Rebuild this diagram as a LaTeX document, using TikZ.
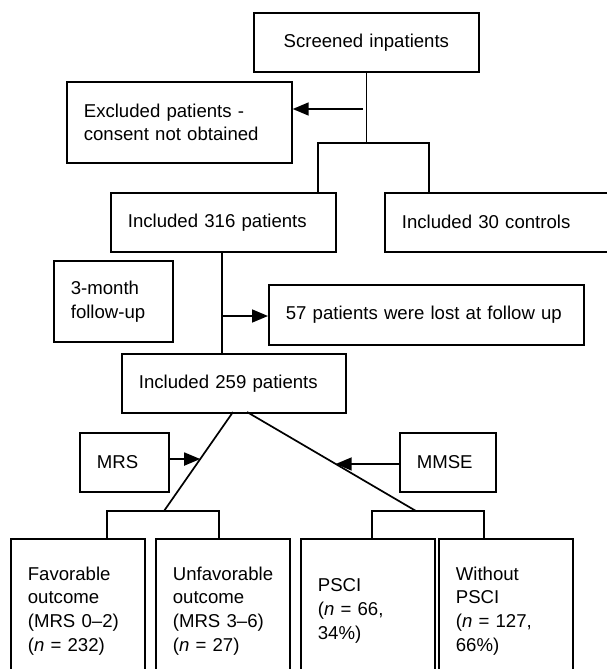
\documentclass[tikz,border=0pt]{standalone}
\usepackage{fontspec}
\setmainfont{Liberation Sans}
\usetikzlibrary{arrows.meta,calc}

\tikzset{
  box/.style={draw, line width=1.7pt, rectangle, anchor=north west,
    inner xsep=17pt, inner ysep=0pt, align=left,
    font=\fontsize{18.6}{23.7}\selectfont},
  link/.style={line width=1.7pt},
  tip/.style={link, -{Triangle[length=16pt,width=13pt]}}
}

\begin{document}
\begin{tikzpicture}[x=1pt,y=-1pt]
    \useasboundingbox (0,0) rectangle (607,669);
    % screening
    \node[box, align=center, minimum width=225pt, text width=191pt, minimum height=59pt] (scr) at (253,12) {Screened inpatients};
    \node[box, minimum width=225pt, text width=191pt, minimum height=81pt] (excl) at (66,81) {Excluded patients -\\consent not obtained};
    \node[box, minimum width=225pt, text width=191pt, minimum height=59pt] (inc316) at (110,192) {Included 316 patients};
    \node[box, minimum width=236pt, text width=202pt, minimum height=59pt] (ctrl) at (384,192) {Included 30 controls};
    % follow-up
    \node[box, minimum width=119pt, text width=85pt, minimum height=81pt] (fu) at (53,260) {3-month\\follow-up};
    \node[box, minimum width=315pt, text width=281pt, minimum height=60pt] (lost) at (268,284) {57 patients were lost at follow up};
    \node[box, minimum width=224pt, text width=190pt, minimum height=59pt] (inc259) at (121,353) {Included 259 patients};
    % outcome scales
    \node[box, minimum width=89pt, text width=55pt, minimum height=59pt] (mrs) at (79,432) {MRS};
    \node[box, minimum width=96pt, text width=62pt, minimum height=59pt] (mmse) at (399,432) {MMSE};
    \node[box, minimum width=134pt, text width=100pt, minimum height=144pt] (fav) at (10,538) {Favorable\\outcome\\(MRS 0–2)\\(\textit{n} = 232)};
    \node[box, minimum width=134pt, text width=100pt, minimum height=144pt] (unfav) at (155,538) {Unfavorable\\outcome\\(MRS 3–6)\\(\textit{n} = 27)};
    \node[box, minimum width=134pt, text width=100pt, minimum height=144pt] (psci) at (300,538) {PSCI\\(\textit{n} = 66,\\34\%)};
    \node[box, minimum width=134pt, text width=100pt, minimum height=144pt] (nopsci) at (438,538) {Without\\PSCI\\(\textit{n} = 127,\\66\%)};

    % connectors
    \coordinate (j1) at (363,109);
    \coordinate (bL) at (318,143);
    \coordinate (bR) at (429,143);
    \draw[link] (scr.south) -- (scr.south |- bL);
    \draw[tip] (j1) -- (j1 -| excl.east);
    \draw[link] (bL |- inc316.north) -- (bL) -- (bR) -- (bR |- ctrl.north);
    \coordinate (j2) at (222,316);
    \draw[link] (inc316.south -| j2) -- (inc259.north -| j2);
    \draw[tip] (j2) -- (j2 -| lost.west);
    \coordinate (s1) at (233,412);
    \coordinate (e1) at (164,511);
    \coordinate (s2) at (247,412);
    \coordinate (e2) at (416,511);
    \draw[link] (s1) -- (e1);
    \draw[link] (s2) -- (e2);
    \coordinate (m1) at ($(s1)!0.475!(e1)$);
    \coordinate (m2) at ($(s2)!0.525!(e2)$);
    \draw[tip] (mrs.east |- m1) -- (m1);
    \draw[tip] (mmse.west |- m2) -- (m2);
    \draw[link] (fav.north -| 107,0) -- (107,511) -- (219,511) -- (unfav.north -| 219,0);
    \draw[link] (psci.north -| 372,0) -- (372,511) -- (484,511) -- (nopsci.north -| 484,0);
\end{tikzpicture}
\end{document}
